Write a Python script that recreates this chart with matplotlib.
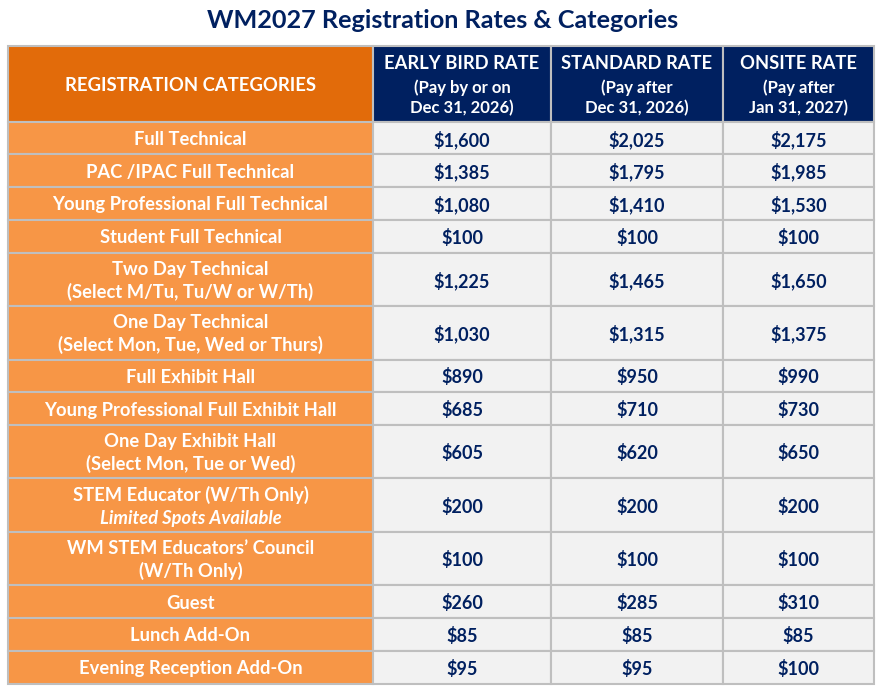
import matplotlib
matplotlib.use("Agg")
import matplotlib.pyplot as plt
from matplotlib.patches import Rectangle

# ---- data ----
title = "WM2027 Registration Rates & Categories"
header_main = ["REGISTRATION CATEGORIES", "EARLY BIRD RATE", "STANDARD RATE", "ONSITE RATE"]
header_sub = ["", "(Pay by or on\nDec 31, 2026)", "(Pay after\nDec 31, 2026)", "(Pay after\nJan 31, 2027)"]
categories = [
    "Full Technical",
    "PAC /IPAC Full Technical",
    "Young Professional Full Technical",
    "Student Full Technical",
    "Two Day Technical\n(Select M/Tu, Tu/W or W/Th)",
    "One Day Technical\n(Select Mon, Tue, Wed or Thurs)",
    "Full Exhibit Hall",
    "Young Professional Full Exhibit Hall",
    "One Day Exhibit Hall\n(Select Mon, Tue or Wed)",
    "STEM Educator (W/Th Only)",
    "WM STEM Educators\u2019 Council\n(W/Th Only)",
    "Guest",
    "Lunch Add-On",
    "Evening Reception Add-On",
]
notes = [None] * 9 + ["Limited Spots Available"] + [None] * 4
early_bird = [1600, 1385, 1080, 100, 1225, 1030, 890, 685, 605, 200, 100, 260, 85, 95]
standard = [2025, 1795, 1410, 100, 1465, 1315, 950, 710, 620, 200, 100, 285, 85, 95]
onsite = [2175, 1985, 1530, 100, 1650, 1375, 990, 730, 650, 200, 100, 310, 85, 100]

# ---- style ----
FONT = ["Lato", "DejaVu Sans"]
NAVY = "#002060"
ORANGE_DARK = "#E26B0A"
ORANGE = "#F79646"
CELL = "#F2F2F2"
GRID = "#BFBFBF"

W, H = 885, 694
fig = plt.figure(figsize=(W / 100, H / 100), dpi=100)
ax = fig.add_axes([0, 0, 1, 1])
ax.set_xlim(0, W)
ax.set_ylim(H, 0)
ax.axis("off")

col_edges = [8, 373, 551, 723, 874]
top = 46
header_h = 75.7
single_h, double_h = 32.7, 53.5
BODY = 13.2

ax.text(W / 2, 20.5, title, ha="center", va="center", fontsize=18.2,
        fontweight="bold", color=NAVY, family=FONT)

def cell(x0, x1, y0, y1, fc):
    ax.add_patch(Rectangle((x0, y0), x1 - x0, y1 - y0, facecolor=fc,
                           edgecolor=GRID, linewidth=1.5))

# header
y0, y1 = top, top + header_h
cell(col_edges[0], col_edges[1], y0, y1, ORANGE_DARK)
ax.text((col_edges[0] + col_edges[1]) / 2, (y0 + y1) / 2 + 1.5, header_main[0],
        ha="center", va="center", fontsize=13.3, fontweight="bold",
        color="white", family=FONT)
for j in range(1, 4):
    cell(col_edges[j], col_edges[j + 1], y0, y1, NAVY)
    cx = (col_edges[j] + col_edges[j + 1]) / 2
    ax.text(cx, y0 + 17, header_main[j], ha="center", va="center",
            fontsize=13.2, fontweight="bold", color="white", family=FONT)
    ax.text(cx, y0 + 52, header_sub[j], ha="center", va="center",
            fontsize=12, fontweight="bold", color="white", family=FONT,
            linespacing=1.35)

# body
series = [early_bird, standard, onsite]
y = y1
for i, cat in enumerate(categories):
    nlines = cat.count("\n") + 1 + (1 if notes[i] else 0)
    h = double_h if nlines > 1 else single_h
    ya, yb = y, y + h
    cy = (ya + yb) / 2 + 1.5
    cell(col_edges[0], col_edges[1], ya, yb, ORANGE)
    cx0 = (col_edges[0] + col_edges[1]) / 2
    if notes[i]:
        ax.text(cx0, cy - 12, cat, ha="center", va="center", fontsize=BODY,
                fontweight="bold", color="white", family=FONT)
        ax.text(cx0, cy + 12, notes[i], ha="center", va="center", fontsize=BODY,
                fontweight="bold", style="italic", color="white", family=FONT)
    else:
        ax.text(cx0, cy, cat, ha="center", va="center", fontsize=BODY,
                fontweight="bold", color="white", family=FONT, linespacing=1.35)
    for j, s in enumerate(series, start=1):
        cell(col_edges[j], col_edges[j + 1], ya, yb, CELL)
        ax.text((col_edges[j] + col_edges[j + 1]) / 2, cy, f"${s[i]:,}",
                ha="center", va="center", fontsize=13, fontweight="bold",
                color=NAVY, family=FONT)
    y = yb

fig.savefig("out.png", dpi=100, facecolor="white")
